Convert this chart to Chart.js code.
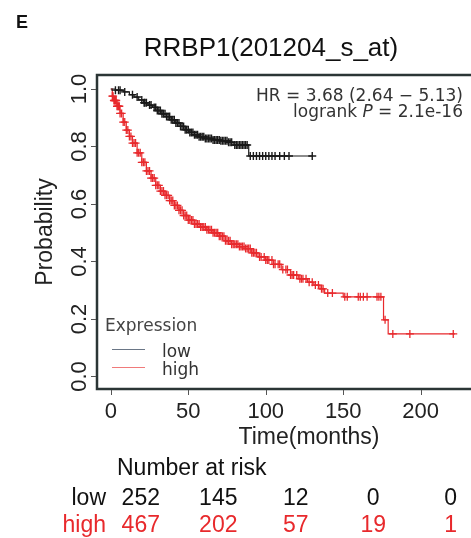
<!DOCTYPE html>
<html>
<head>
<meta charset="utf-8">
<script src="https://cdn.jsdelivr.net/npm/chart.js@4.4.1/dist/chart.umd.min.js"></script>
<style>
html, body { margin: 0; padding: 0; background: #fff; overflow: hidden; }
#km { display: block; }
</style>
</head>
<body>
<canvas id="km" width="474" height="538"></canvas>
<script>
// Kaplan-Meier step points (time in months, survival after the step)
const lowTimes = [0, 3, 8, 12, 15, 18, 21, 24, 27, 30, 33, 36, 39, 42, 45, 48, 51, 54, 57, 61, 66, 71, 76, 79, 89, 130];
const lowSurv = [1.0, 0.996, 0.99, 0.98, 0.972, 0.962, 0.952, 0.944, 0.936, 0.925, 0.914, 0.904, 0.893, 0.882, 0.870, 0.858, 0.849, 0.841, 0.834, 0.828, 0.823, 0.820, 0.815, 0.805, 0.767, 0.767];
const highTimes = [0, 1, 2, 4, 6, 8, 10, 12, 14, 17, 20, 23, 26, 29, 32, 35, 38, 41, 44, 47, 50, 54, 58, 62, 66, 70, 74, 78, 83, 87, 91, 95, 100, 105, 110, 116, 121, 127, 131, 135, 138, 150, 176, 179, 222];
const highSurv = [1.0, 0.975, 0.96, 0.94, 0.915, 0.885, 0.857, 0.835, 0.812, 0.778, 0.745, 0.715, 0.69, 0.665, 0.645, 0.63, 0.612, 0.595, 0.578, 0.56, 0.544, 0.53, 0.52, 0.51, 0.5, 0.488, 0.472, 0.46, 0.452, 0.445, 0.43, 0.416, 0.405, 0.39, 0.372, 0.353, 0.34, 0.328, 0.318, 0.305, 0.29, 0.277, 0.197, 0.148, 0.148];

// censoring times (+ marks)
const lowCensor = [3, 5, 6, 9, 14, 17, 20, 21.5, 22, 23, 25, 26, 28, 29, 30, 31, 32, 33, 34, 35, 36, 37, 38, 39, 40, 41, 42, 43, 44, 45, 46, 47, 48, 49, 50, 51, 52, 53, 54, 55, 56, 57, 58, 59, 60, 61, 62, 63, 64, 65, 66, 67, 68, 69, 70, 71, 72, 73, 74, 75, 76, 77, 78, 80, 81, 82, 83, 84, 85, 86, 87, 88, 90, 92, 94, 96, 98, 100, 102, 104, 106, 109, 112, 115, 130];
const highCensor = [1, 1.5, 2, 2.5, 3, 3.5, 4, 4.5, 5, 5.5, 6, 7, 8, 9, 10, 11, 12, 13, 14, 15, 16, 17, 18, 19, 20, 21, 22, 23, 24, 25, 26, 27, 28, 29, 30, 31, 32, 33, 34, 35, 36, 37, 38, 39, 40, 41, 42, 43, 44, 45, 46, 47, 48, 49, 50, 51, 52, 53, 54, 55, 56, 57, 58, 59, 60, 61, 62, 63, 64, 65, 66, 67, 68, 69, 70, 71, 72, 73, 74, 75, 76, 77, 78, 79, 80, 81, 82, 83, 84, 85, 86, 87, 88, 89, 90, 91, 92, 93, 94, 96, 97, 99, 100, 101, 102, 104, 105, 106, 108, 109, 111, 113, 114, 116, 117, 118, 120, 122, 123, 124, 126, 128, 130, 132, 134, 136, 137, 140, 143, 151, 152.6, 159.7, 161, 163, 165.4, 171.8, 173, 174.3, 177, 182, 193, 221];

const xTicks = [0, 50, 100, 150, 200];
const yTicks = [0, 0.2, 0.4, 0.6, 0.8, 1.0];
const riskTimes = [0, 50, 100, 150, 200];
const riskLow = [252, 145, 12, 0, 0];
const riskHigh = [467, 202, 57, 19, 1];

const RED = '#e8292c';
const BLACK = '#1a1a1a';
const ARIAL = '"Liberation Sans", Arial, sans-serif';
const DEJAVU = '"DejaVu Sans", sans-serif';

function survAt(times, surv, t) {
    let s = surv[0];
    for (let i = 0; i < times.length; i++) {
        if (times[i] <= t) s = surv[i];
    }
    return s;
}

function curve(times, surv) {
    return times.map((t, i) => ({ x: t, y: surv[i] }));
}

function marks(cens, times, surv) {
    return cens.map(t => ({ x: t, y: survAt(times, surv, t) }));
}

const decorPlugin = {
    id: 'decor',
    afterDraw(chart) {
        const ctx = chart.ctx;
        const xs = chart.scales.x;
        const ys = chart.scales.y;
        const a = chart.chartArea;
        const W = chart.width;
        ctx.save();

        // frame (right side is cut off in the picture)
        ctx.strokeStyle = '#2b3535';
        ctx.lineWidth = 2.5;
        ctx.beginPath();
        ctx.moveTo(W + 5, a.top);
        ctx.lineTo(a.left, a.top);
        ctx.lineTo(a.left, a.bottom);
        ctx.lineTo(W + 5, a.bottom);
        ctx.stroke();

        // tick marks
        ctx.lineWidth = 1;
        ctx.strokeStyle = '#555';
        ctx.beginPath();
        xTicks.forEach(v => {
            const px = Math.round(xs.getPixelForValue(v)) + 0.5;
            ctx.moveTo(px, a.bottom + 1);
            ctx.lineTo(px, a.bottom + 6);
        });
        yTicks.forEach(v => {
            const py = Math.round(ys.getPixelForValue(v)) + 0.5;
            ctx.moveTo(a.left - 1, py);
            ctx.lineTo(a.left - 6, py);
        });
        ctx.stroke();

        // tick labels
        ctx.fillStyle = '#222';
        ctx.font = '22px ' + ARIAL;
        ctx.textAlign = 'center';
        ctx.textBaseline = 'alphabetic';
        xTicks.forEach(v => {
            ctx.fillText(String(v), xs.getPixelForValue(v), 418);
        });
        yTicks.forEach(v => {
            ctx.save();
            ctx.translate(85.5, ys.getPixelForValue(v));
            ctx.rotate(-Math.PI / 2);
            ctx.fillText(v.toFixed(1), 0, 0);
            ctx.restore();
        });

        // axis titles
        ctx.font = '23px ' + ARIAL;
        ctx.fillText('Time(months)', 309, 444);
        ctx.save();
        ctx.translate(52, (a.top + a.bottom) / 2);
        ctx.rotate(-Math.PI / 2);
        ctx.fillText('Probability', 0, 0);
        ctx.restore();

        // title and panel letter
        ctx.fillStyle = '#111';
        ctx.font = '26px ' + ARIAL;
        ctx.fillText('RRBP1(201204_s_at)', 271, 56);
        ctx.textAlign = 'left';
        ctx.font = 'bold 18px ' + ARIAL;
        ctx.fillText('E', 16, 28);

        // HR annotation
        ctx.fillStyle = '#333';
        ctx.font = '17px ' + DEJAVU;
        ctx.textAlign = 'right';
        ctx.fillText('HR = 3.68 (2.64 \u2212 5.13)', 463, 100.5);
        const pStr = ' = 2.1e-16';
        const pw = ctx.measureText(pStr).width;
        ctx.fillText(pStr, 463, 117);
        ctx.font = 'italic 17px ' + DEJAVU;
        const iw = ctx.measureText('P').width;
        ctx.fillText('P', 463 - pw, 117);
        ctx.font = '17px ' + DEJAVU;
        ctx.fillText('logrank ', 463 - pw - iw, 117);

        // legend
        ctx.textAlign = 'left';
        ctx.fillStyle = '#444';
        ctx.fillText('Expression', 105, 330.5);
        ctx.lineWidth = 1.2;
        ctx.strokeStyle = '#6a7686';
        ctx.beginPath();
        ctx.moveTo(112, 349.5);
        ctx.lineTo(145, 349.5);
        ctx.stroke();
        ctx.strokeStyle = '#f07a7a';
        ctx.beginPath();
        ctx.moveTo(112, 367.5);
        ctx.lineTo(145, 367.5);
        ctx.stroke();
        ctx.fillStyle = '#333';
        ctx.fillText('low', 162, 356.5);
        ctx.fillText('high', 162, 374.5);

        // number at risk table
        ctx.font = '23px ' + ARIAL;
        ctx.fillStyle = '#111';
        ctx.fillText('Number at risk', 117, 474.5);
        ctx.textAlign = 'right';
        ctx.fillText('low', 106, 505);
        ctx.fillStyle = RED;
        ctx.fillText('high', 106, 531.5);
        ctx.textAlign = 'center';
        riskTimes.forEach((t, i) => {
            const px = xs.getPixelForValue(t) + 30;
            ctx.fillStyle = '#111';
            ctx.fillText(String(riskLow[i]), px, 505);
            ctx.fillStyle = RED;
            ctx.fillText(String(riskHigh[i]), px, 531.5);
        });

        ctx.restore();
    }
};

const chart = new Chart(document.getElementById('km').getContext('2d'), {
    type: 'line',
    data: {
        datasets: [
            {
                label: 'low',
                data: curve(lowTimes, lowSurv),
                stepped: 'before',
                borderColor: BLACK,
                borderWidth: 1.2,
                pointRadius: 0,
                order: 1
            },
            {
                label: 'low censored',
                data: marks(lowCensor, lowTimes, lowSurv),
                showLine: false,
                pointStyle: 'cross',
                pointRadius: 4,
                borderColor: BLACK,
                borderWidth: 1.4,
                order: 2
            },
            {
                label: 'high',
                data: curve(highTimes, highSurv),
                stepped: 'before',
                borderColor: RED,
                borderWidth: 1.2,
                pointRadius: 0,
                order: 3
            },
            {
                label: 'high censored',
                data: marks(highCensor, highTimes, highSurv),
                showLine: false,
                pointStyle: 'cross',
                pointRadius: 4,
                borderColor: RED,
                borderWidth: 1.3,
                order: 4
            }
        ]
    },
    options: {
        responsive: false,
        animation: false,
        devicePixelRatio: 1,
        layout: {
            padding: { top: 75, left: 0, right: 0, bottom: 0 }
        },
        plugins: {
            legend: { display: false },
            tooltip: { enabled: false }
        },
        scales: {
            x: {
                type: 'linear',
                min: -8.9,
                max: 230.9,
                afterBuildTicks: s => { s.ticks = xTicks.map(v => ({ value: v })); },
                afterFit: s => { s.height = 149; },
                ticks: { display: false },
                grid: { display: false },
                border: { display: false }
            },
            y: {
                type: 'linear',
                min: -0.0435,
                max: 1.0487,
                afterBuildTicks: s => { s.ticks = yTicks.map(v => ({ value: v })); },
                afterFit: s => { s.width = 97; },
                ticks: { display: false },
                grid: { display: false },
                border: { display: false }
            }
        }
    },
    plugins: [decorPlugin]
});
</script>
</body>
</html>
